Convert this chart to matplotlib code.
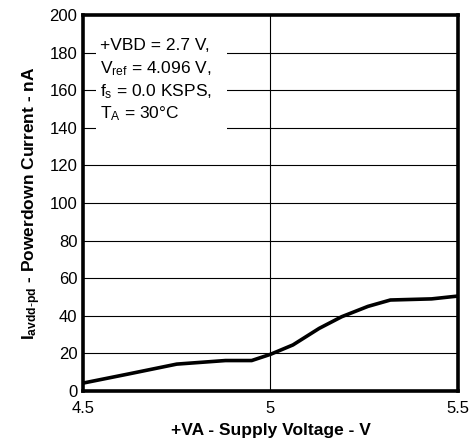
import matplotlib
matplotlib.use('Agg')
import matplotlib.pyplot as plt
from matplotlib.patches import Rectangle

plt.rcParams['font.family'] = ['Liberation Sans', 'DejaVu Sans']
plt.rcParams['mathtext.fontset'] = 'custom'
plt.rcParams['mathtext.rm'] = 'Liberation Sans'
plt.rcParams['mathtext.it'] = 'Liberation Sans'
plt.rcParams['mathtext.bf'] = 'Liberation Sans:bold'

# supply voltage (V) and powerdown current (nA)
va = [4.5, 4.62, 4.75, 4.88, 4.95, 5.0, 5.06, 5.13, 5.19, 5.26, 5.32, 5.43, 5.5]
i_pd = [4.2, 9.0, 14.3, 16.2, 16.2, 19.5, 24.5, 33.3, 39.5, 45.0, 48.4, 49.0, 50.5]

xticks = [4.5, 5, 5.5]
xticklabels = ['4.5', '5', '5.5']
yticks = list(range(0, 201, 20))

notes = ['+VBD = 2.7 V,',
         r'$\mathregular{V_{ref}}$ = 4.096 V,',
         r'$\mathregular{f_s}$ = 0.0 KSPS,',
         r'$\mathregular{T_A}$ = 30°C']

fig = plt.figure(figsize=(4.73, 4.42), dpi=100)
ax = fig.add_axes([0.1755, 0.1154, 0.7925, 0.8506])

ax.plot(va, i_pd, color='black', lw=2.6, zorder=5, solid_joinstyle='round')

ax.set_xlim(4.5, 5.5)
ax.set_ylim(0, 200)
ax.set_xticks(xticks)
ax.set_xticklabels(xticklabels)
ax.set_yticks(yticks)
ax.tick_params(length=0, labelsize=12)
ax.tick_params(axis='x', pad=7)
ax.tick_params(axis='y', pad=4)

# grid: horizontal every 20, vertical only at 5 V
for y in yticks[1:-1]:
    ax.axhline(y, color='black', lw=0.8, zorder=1)
ax.axvline(5, color='black', lw=0.8, zorder=1)

for s in ax.spines.values():
    s.set_linewidth(2.6)
    s.set_zorder(6)

# white box behind the conditions text
ax.add_patch(Rectangle((0.035, 0.681), 0.349, 0.266, transform=ax.transAxes,
                       facecolor='white', edgecolor='none', zorder=2))
for k, t in enumerate(notes):
    ax.text(0.045, 0.907 - k * 0.061, t, transform=ax.transAxes, fontsize=12.5,
            va='baseline', ha='left', zorder=3)

ax.set_xlabel('+VA - Supply Voltage - V', fontsize=12.5, fontweight='bold', labelpad=5)
ax.set_ylabel(r'I$\mathregular{_{avdd\text{-}pd}}$ - Powerdown Current - nA',
              fontsize=12.5, fontweight='bold', labelpad=5)

fig.savefig('out.png', dpi=100)
